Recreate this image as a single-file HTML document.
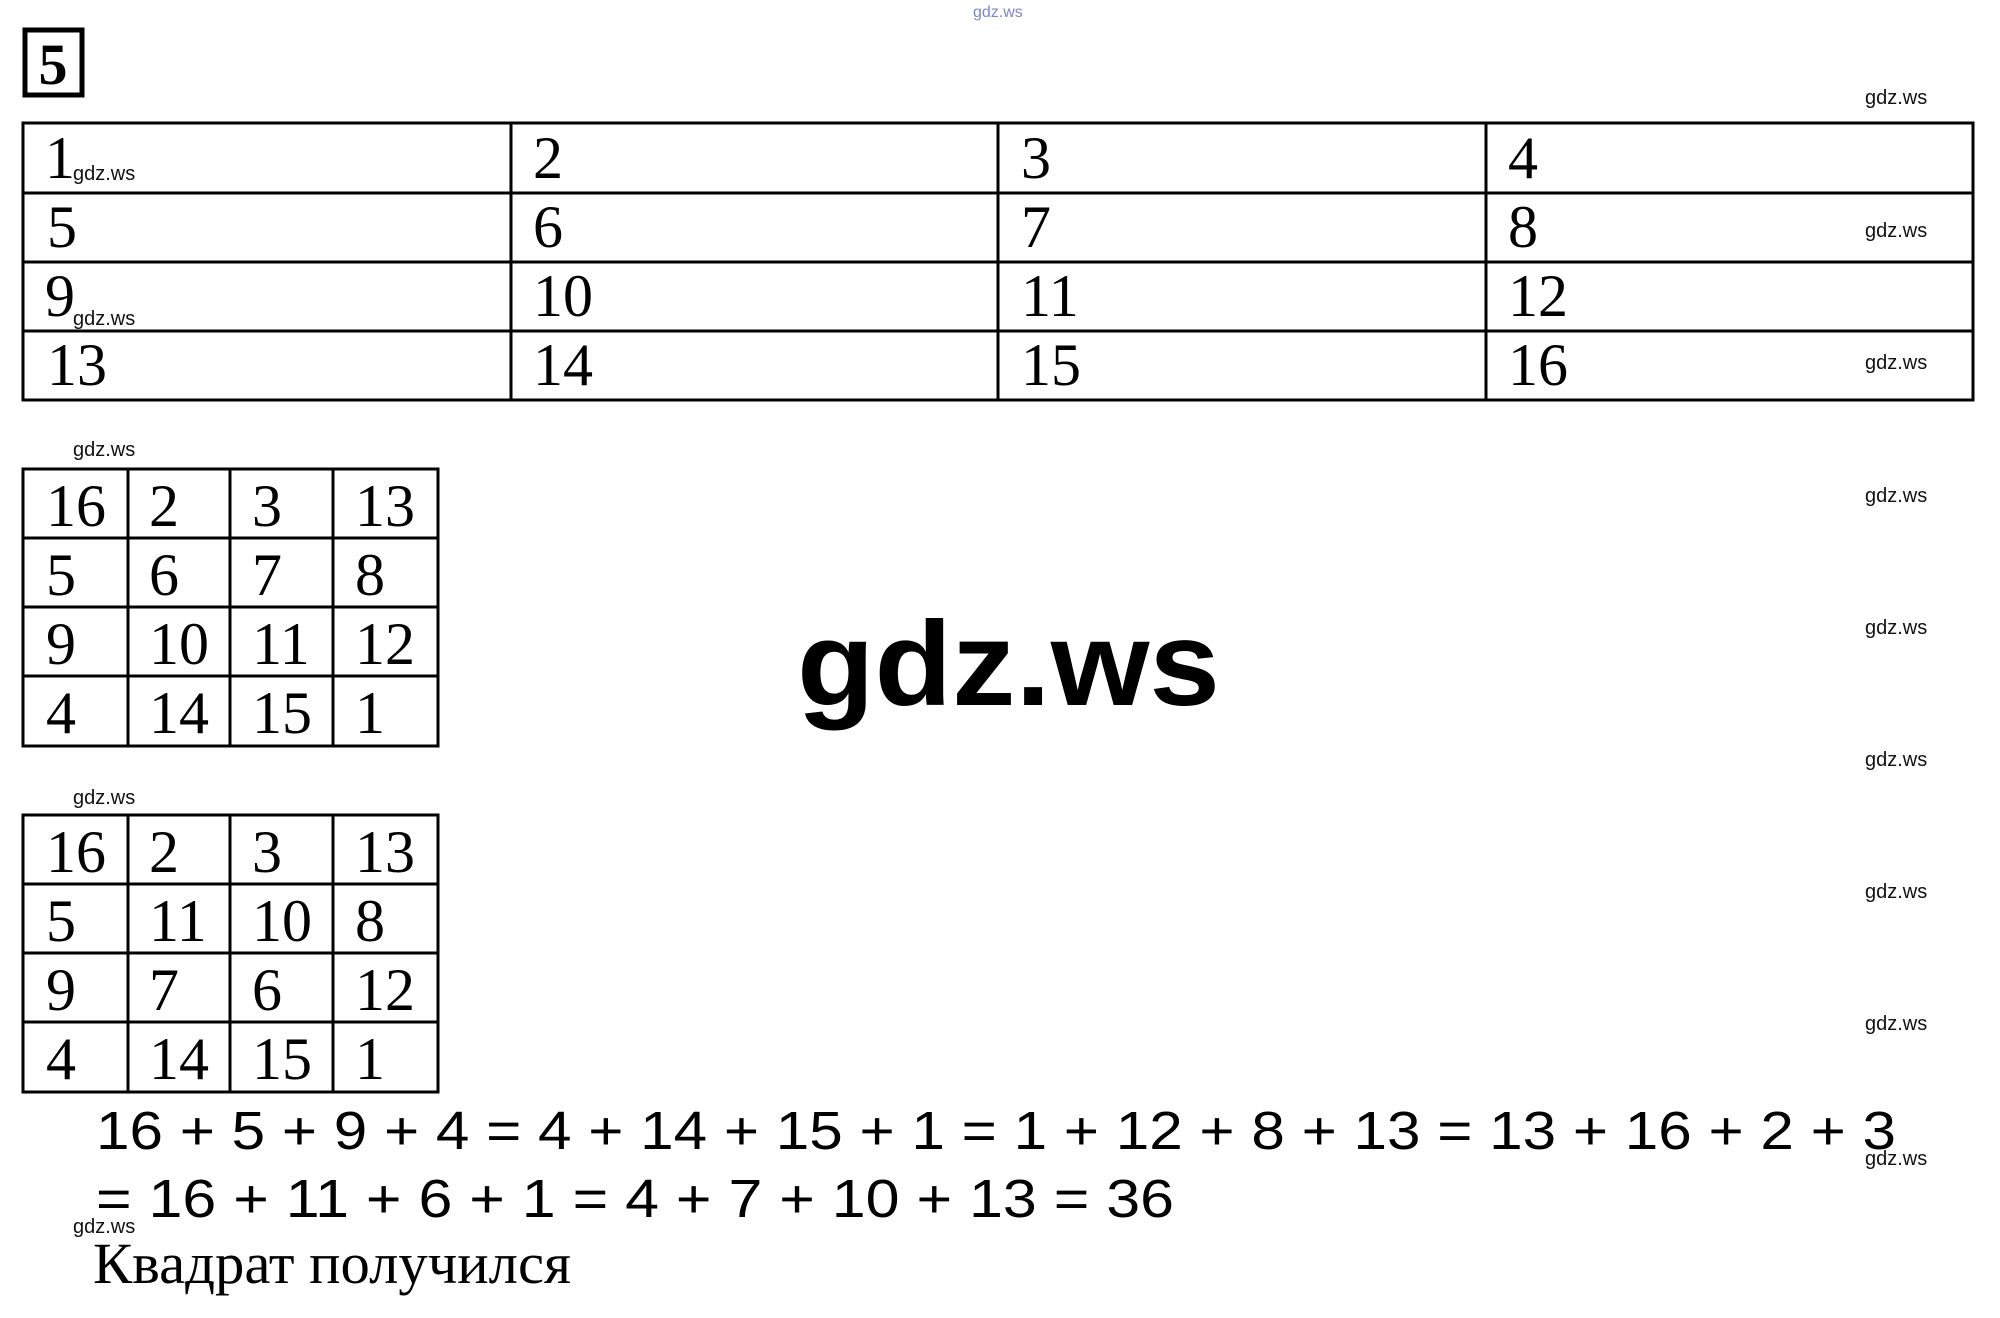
<!DOCTYPE html>
<html><head><meta charset="utf-8"><style>
html,body{margin:0;padding:0;background:#fff;width:2000px;height:1318px;overflow:hidden}
svg{display:block}
.n{font-family:"Liberation Serif",serif;font-size:60px;fill:#000}
.w{font-family:"Liberation Sans",sans-serif;font-size:20px;fill:#111}
.e{font-family:"Liberation Sans",sans-serif;font-size:54px;fill:#000}
</style></head><body>
<svg width="2000" height="1318" viewBox="0 0 2000 1318" xmlns="http://www.w3.org/2000/svg">
<text x="973" y="17" font-family="Liberation Sans,sans-serif" font-size="16" fill="#7a86c8">gdz.ws</text>
<rect x="25" y="30" width="57" height="65" fill="none" stroke="#000" stroke-width="5"/>
<text x="53" y="84" text-anchor="middle" font-family="Liberation Serif,serif" font-weight="bold" font-size="58">5</text>
<g stroke="#000" stroke-width="3" fill="none">
<rect x="23" y="123" width="1950" height="277"/>
<line x1="23" y1="193" x2="1973" y2="193"/><line x1="23" y1="262" x2="1973" y2="262"/><line x1="23" y1="331" x2="1973" y2="331"/>
<line x1="511" y1="123" x2="511" y2="400"/><line x1="998" y1="123" x2="998" y2="400"/><line x1="1486" y1="123" x2="1486" y2="400"/>
<rect x="23" y="469" width="415" height="277"/>
<line x1="23" y1="538" x2="438" y2="538"/><line x1="23" y1="607" x2="438" y2="607"/><line x1="23" y1="676" x2="438" y2="676"/>
<line x1="128" y1="469" x2="128" y2="746"/><line x1="230" y1="469" x2="230" y2="746"/><line x1="333" y1="469" x2="333" y2="746"/>
<rect x="23" y="815" width="415" height="277"/>
<line x1="23" y1="884" x2="438" y2="884"/><line x1="23" y1="953" x2="438" y2="953"/><line x1="23" y1="1022" x2="438" y2="1022"/>
<line x1="128" y1="815" x2="128" y2="1092"/><line x1="230" y1="815" x2="230" y2="1092"/><line x1="333" y1="815" x2="333" y2="1092"/>
</g>
<g class="n">
<text x="45" y="178">1</text><text x="533" y="178">2</text><text x="1021" y="178">3</text><text x="1508" y="178">4</text>
<text x="47" y="247">5</text><text x="533" y="247">6</text><text x="1021" y="247">7</text><text x="1508" y="247">8</text>
<text x="45" y="316">9</text><text x="533" y="316">10</text><text x="1021" y="316">11</text><text x="1508" y="316">12</text>
<text x="47" y="385">13</text><text x="533" y="385">14</text><text x="1021" y="385">15</text><text x="1508" y="385">16</text>
</g>
<g class="n">
<text x="46" y="526">16</text><text x="149" y="526">2</text><text x="252" y="526">3</text><text x="355" y="526">13</text>
<text x="46" y="595">5</text><text x="149" y="595">6</text><text x="252" y="595">7</text><text x="355" y="595">8</text>
<text x="46" y="664">9</text><text x="149" y="664">10</text><text x="252" y="664">11</text><text x="355" y="664">12</text>
<text x="46" y="733">4</text><text x="149" y="733">14</text><text x="252" y="733">15</text><text x="355" y="733">1</text>
<text x="46" y="872">16</text><text x="149" y="872">2</text><text x="252" y="872">3</text><text x="355" y="872">13</text>
<text x="46" y="941">5</text><text x="149" y="941">11</text><text x="252" y="941">10</text><text x="355" y="941">8</text>
<text x="46" y="1010">9</text><text x="149" y="1010">7</text><text x="252" y="1010">6</text><text x="355" y="1010">12</text>
<text x="46" y="1079">4</text><text x="149" y="1079">14</text><text x="252" y="1079">15</text><text x="355" y="1079">1</text>
</g>
<text x="797" y="705" font-family="Liberation Sans,sans-serif" font-weight="bold" font-size="120" textLength="423" lengthAdjust="spacingAndGlyphs">gdz.ws</text>
<g class="w">
<text x="1865" y="104">gdz.ws</text><text x="1865" y="237">gdz.ws</text><text x="1865" y="369">gdz.ws</text>
<text x="1865" y="502">gdz.ws</text><text x="1865" y="634">gdz.ws</text><text x="1865" y="766">gdz.ws</text>
<text x="1865" y="898">gdz.ws</text><text x="1865" y="1030">gdz.ws</text><text x="1865" y="1165">gdz.ws</text>
<text x="73" y="180">gdz.ws</text><text x="73" y="325">gdz.ws</text><text x="73" y="456">gdz.ws</text>
<text x="73" y="804">gdz.ws</text><text x="73" y="1233">gdz.ws</text>
</g>
<text class="e" x="96" y="1149" textLength="1800" lengthAdjust="spacingAndGlyphs">16 + 5 + 9 + 4 = 4 + 14 + 15 + 1 = 1 + 12 + 8 + 13 = 13 + 16 + 2 + 3</text>
<text class="e" x="96" y="1217" textLength="1078" lengthAdjust="spacingAndGlyphs">= 16 + 11 + 6 + 1 = 4 + 7 + 10 + 13 = 36</text>
<text x="93" y="1283" font-family="Liberation Serif,serif" font-size="58" textLength="478" lengthAdjust="spacingAndGlyphs">Квадрат получился</text>
</svg>
</body></html>
